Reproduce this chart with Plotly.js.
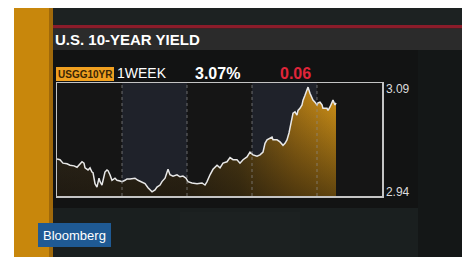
<!DOCTYPE html>
<html>
<head>
<meta charset="utf-8">
<script src="https://cdn.plot.ly/plotly-3.0.1.min.js"></script>
<style>html,body{margin:0;padding:0;background:#fff;}#chart{width:466px;height:257px;}</style>
</head>
<body>
<div id="chart"></div>
<script>
// ---- data (time in trading days since start of week, yield in %) ----
const times = [0,0.046,0.092,0.154,0.2,0.262,0.308,0.354,0.385,0.415,0.431,0.477,0.508,0.538,0.554,0.585,0.615,0.646,0.662,0.692,0.723,0.738,0.769,0.785,0.815,0.846,0.892,0.923,0.969,1.0,1.046,1.077,1.123,1.2,1.246,1.292,1.354,1.4,1.431,1.462,1.508,1.538,1.585,1.615,1.662,1.692,1.708,1.738,1.785,1.846,1.892,1.938,1.985,2.015,2.077,2.154,2.231,2.277,2.308,2.354,2.4,2.462,2.508,2.554,2.615,2.662,2.708,2.769,2.815,2.862,2.923,2.969,3.015,3.077,3.123,3.169,3.2,3.231,3.277,3.308,3.323,3.385,3.431,3.477,3.508,3.538,3.569,3.615,3.631,3.662,3.692,3.708,3.738,3.769,3.785,3.815,3.846,3.862,3.892,3.923,3.938,3.969,4.0,4.015,4.046,4.077,4.092,4.154,4.169,4.2,4.231,4.246,4.277,4.292];
const yields = [2.988,2.987,2.982,2.981,2.979,2.978,2.976,2.981,2.984,2.982,2.975,2.972,2.975,2.969,2.968,2.952,2.947,2.960,2.955,2.950,2.963,2.969,2.972,2.971,2.965,2.957,2.960,2.957,2.956,2.955,2.957,2.959,2.959,2.960,2.957,2.955,2.952,2.946,2.943,2.940,2.943,2.947,2.950,2.955,2.960,2.969,2.973,2.965,2.963,2.965,2.962,2.963,2.960,2.955,2.953,2.952,2.953,2.950,2.955,2.965,2.973,2.979,2.975,2.982,2.984,2.990,2.987,2.987,2.982,2.987,2.991,2.998,2.994,2.992,2.994,2.998,3.011,3.016,3.019,3.020,3.016,3.016,3.013,3.008,3.011,3.016,3.026,3.045,3.055,3.057,3.052,3.059,3.062,3.067,3.074,3.081,3.089,3.093,3.084,3.077,3.074,3.071,3.067,3.070,3.071,3.067,3.062,3.062,3.059,3.064,3.070,3.074,3.067,3.070];
const yTickVals = [2.94, 3.09];
const yTickText = ['2.94', '3.09'];
const dayBounds = [0, 1, 2, 3, 4, 5];
const title = 'U.S. 10-YEAR YIELD';
const ticker = 'USGG10YR';
const period = '1WEEK';
const lastValue = '3.07%';
const change = '0.06';
const brand = 'Bloomberg';

// ---- geometry helpers (pixel -> paper) ----
const W = 466, H = 257, L = 57, R = 84, T = 83, B = 61;
const PW = W - L - R, PH = H - T - B;
const fx = p => (p - L) / PW;
const fy = p => (H - B - p) / PH;
const rect = (x0, y0, x1, y1, color, layer) => ({type:'rect', xref:'paper', yref:'paper',
  x0: fx(x0), x1: fx(x1), y0: fy(y1), y1: fy(y0), fillcolor: color, line:{width:0}, layer: layer || 'below'});

const FONT = 'Liberation Sans, Arial, sans-serif';

const shapes = [
  rect(14, 8, 462, 257, '#171b1b'),
  rect(14, 8, 462, 25, '#1d2222'),
  rect(14, 25, 462, 28.5, 'rgb(140,28,42)'),
  rect(53, 28.5, 462, 50, '#2b2b2b'),
  rect(53, 50, 462, 208, '#121313'),
  rect(53, 208, 462, 257, '#1a1f1f'),
  rect(180, 212, 300, 257, '#1c2121'),
  rect(418, 50, 462, 257, '#141717'),
  rect(14, 8, 49, 257, 'rgb(200,135,12)'),
  rect(49, 8, 53, 257, 'rgb(160,105,10)'),
  rect(L, T, W - R, H - B, '#151515'),
  rect(56, 67, 114, 81, '#f0a020'),
  rect(38, 223, 111, 247, '#1f5a94')
];
// alternate day shading
for (let i = 1; i < dayBounds.length - 1; i += 2) {
  shapes.push({type:'rect', xref:'x', yref:'paper', x0: dayBounds[i], x1: dayBounds[i+1], y0:0, y1:1,
    fillcolor:'rgb(31,34,42)', line:{width:0}, layer:'below'});
}
// day separators
for (let i = 1; i < dayBounds.length - 1; i++) {
  shapes.push({type:'line', xref:'x', yref:'paper', x0: dayBounds[i], x1: dayBounds[i], y0:0, y1:1,
    line:{color:'rgba(140,140,140,0.7)', width:1, dash:'3px,3px'}, layer:'above'});
}

const ann = (text, px, py, size, color, opts) => Object.assign({
  text, xref:'paper', yref:'paper', x: fx(px), y: fy(py), xanchor:'left', yanchor:'middle',
  showarrow:false, font:{family: FONT, size, color}}, opts || {});

const annotations = [
  ann('<b>' + title + '</b>', 53, 39, 15, '#ffffff'),
  ann('<b>' + ticker + '</b>', 85, 74, 10, '#3a2605', {xanchor:'center'}),
  ann(period, 115, 73, 14, '#ffffff'),
  ann('<b>' + lastValue + '</b>', 193, 73, 16, '#ffffff'),
  ann('<b>' + change + '</b>', 278, 73, 16, '#e0253a'),
  ann(brand, 74.5, 235.5, 13, '#ffffff', {xanchor:'center'})
];

const traces = [
  { x: times, y: yields, type:'scatter', mode:'lines', fill:'tozeroy', line:{width:0},
    fillgradient:{type:'horizontal', start:0, stop:4.3,
      colorscale:[[0,'rgb(52,45,32)'],[0.45,'rgb(62,50,28)'],[0.65,'rgb(95,72,24)'],[0.85,'rgb(170,118,22)'],[1,'rgb(214,150,24)']]},
    hoverinfo:'skip', showlegend:false },
  { x: times, y: yields, type:'scatter', mode:'lines', fill:'tozeroy', line:{width:0},
    fillgradient:{type:'vertical', start:2.934, stop:3.09,
      colorscale:[[0,'rgba(18,14,8,0.6)'],[1,'rgba(18,14,8,0)']]},
    hoverinfo:'skip', showlegend:false },
  { x: times, y: yields, type:'scatter', mode:'lines', line:{color:'#e8e8e8', width:1.5},
    hoverinfo:'skip', showlegend:false }
];

const layout = {
  width: W, height: H,
  margin: {l: L, r: R, t: T, b: B, pad: 0},
  paper_bgcolor: '#ffffff',
  plot_bgcolor: 'rgba(0,0,0,0)',
  showlegend: false,
  xaxis: {range:[dayBounds[0], dayBounds[dayBounds.length-1]], showgrid:false, zeroline:false,
    showticklabels:false, ticks:'', showline:true, mirror:true, linecolor:'#c4c4c4', linewidth:1.5, fixedrange:true},
  yaxis: {range:[2.934, 3.099], side:'right', showgrid:false, zeroline:false, tickvals:yTickVals, ticktext:yTickText,
    ticks:'', tickfont:{family: FONT, size:12, color:'#dcdcdc'}, showline:true, mirror:true,
    linecolor:'#c4c4c4', linewidth:1.5, fixedrange:true},
  shapes, annotations
};

Plotly.newPlot('chart', traces, layout, {staticPlot:true, displayModeBar:false});
</script>
</body>
</html>
